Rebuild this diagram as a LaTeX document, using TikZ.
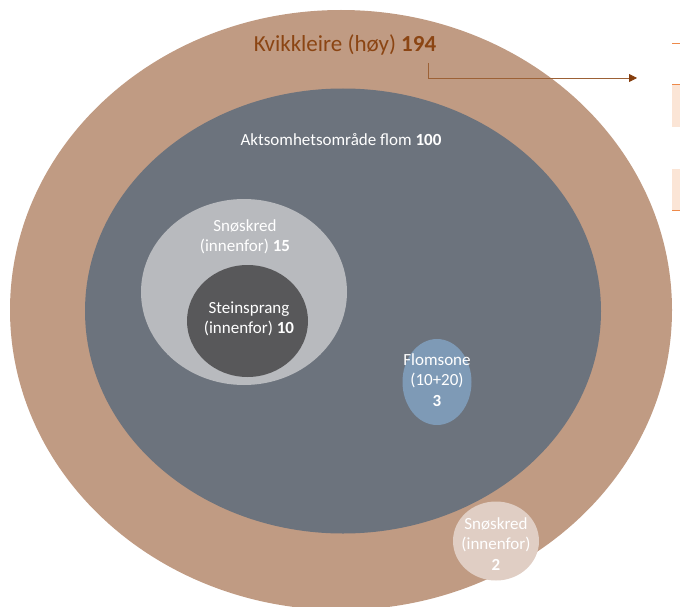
\documentclass[tikz,border=0pt]{standalone}
\usepackage{fontspec}
\setmainfont{Carlito}
\usetikzlibrary{arrows.meta,shapes.geometric}
\definecolor{tan}{HTML}{C09B83}
\definecolor{slate}{HTML}{6C737D}
\definecolor{lgrey}{HTML}{B8BABE}
\definecolor{dgrey}{HTML}{58585A}
\definecolor{fblue}{HTML}{7E9AB6}
\definecolor{lpink}{HTML}{E0CEC4}
\definecolor{brown}{HTML}{8B4513}
\definecolor{darrow}{HTML}{843C0C}
\definecolor{orng}{HTML}{EE8A4A}
\definecolor{peach}{HTML}{FBE5D6}
\tikzset{
  blob/.style={draw=none, ellipse},
  lbl/.style={text=white, font=\fontsize{17}{20.5}\selectfont, align=center, inner sep=0pt},
}
\begin{document}
\begin{tikzpicture}[x=1pt,y=-1pt]
\useasboundingbox (0,0) rectangle (680,607);
\begin{scope}
\clip (0,0) rectangle (680,607);
\node[blob, fill=tan, minimum width=662, minimum height=600] (kv) at (341,310) {};
\end{scope}
\node[blob, fill=slate, minimum width=516, minimum height=445] (af) at (343,311) {};
\node[blob, fill=lgrey, minimum width=206, minimum height=186] (sn) at (244,292) {};
\node[blob, fill=dgrey, minimum width=121, minimum height=112] (st) at (247.5,321) {};
\node[blob, fill=fblue, minimum width=69, minimum height=86] (fl) at (437,382) {};
\node[blob, fill=lpink, minimum width=86, minimum height=79] (sn2) at (496,541) {};
% labels
\node[inner sep=0pt, text=brown, font=\fontsize{23}{27}\selectfont, anchor=center] (kvl) at (345,45) {Kvikkleire (høy) \textbf{194}};
\node[lbl] (afl) at (341,140) {Aktsomhetsområde flom \textbf{100}};
\node[lbl] (snl) at (245,237) {Snøskred\\(innenfor) \textbf{15}};
\node[lbl] (stl) at (249,319) {Steinsprang\\(innenfor) \textbf{10}};
\node[lbl] (fll) at (437,380) {Flomsone\\(10+20)\\\textbf{3}};
\node[lbl] (sn2l) at (496,544) {Snøskred\\(innenfor)\\\textbf{2}};
% arrow
\coordinate (arrEnd) at (637,78);
\draw[brown!85!white, line width=0.8pt, -{Triangle[length=8pt,width=8pt,color=darrow]}] (428,63) |- (arrEnd);
% legend fragments
\fill[peach] (672,84) rectangle (680,127);
\fill[peach] (672,169) rectangle (680,211);
\draw[orng, line width=1pt] (672,44) -- (680,44);
\draw[orng, line width=1pt] (672,85) -- (680,85);
\draw[orng, line width=1pt] (672,210) -- (680,210);
\end{tikzpicture}
\end{document}
